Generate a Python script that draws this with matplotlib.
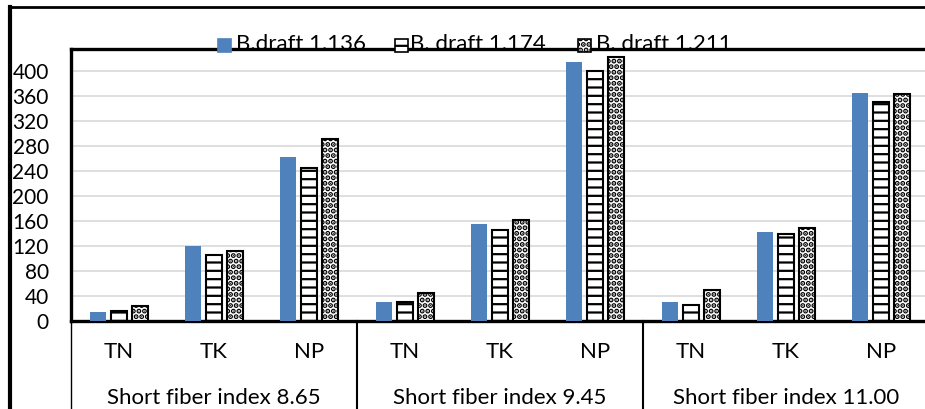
import matplotlib
matplotlib.use("Agg")
import matplotlib.pyplot as plt
from matplotlib.patches import Rectangle
from matplotlib.lines import Line2D
import numpy as np

# =====================================================
# DATA
# =====================================================

groups = ["Short fiber index 8.65", "Short fiber index 9.45", "Short fiber index 11.00"]
params = ["TN", "TK", "NP"]
series_names = ["B.draft 1.136", "B. draft 1.174", "B. draft 1.211"]

draft_1136 = [15, 120, 262, 31, 155, 414, 30, 143, 365]
draft_1174 = [16, 105, 245, 30, 146, 400, 26, 139, 350]
draft_1211 = [24, 112, 290, 45, 161, 422, 50, 148, 362]

yticks = [0, 40, 80, 120, 160, 200, 240, 280, 320, 360, 400]

# =====================================================
# STYLE
# =====================================================

plt.rcParams['font.family'] = ['Lato', 'DejaVu Sans']
plt.rcParams['hatch.linewidth'] = 1.6
FS = 16
BLUE = "#4F81BD"
DOT_HATCH = "..."
DOT_LW = 2.6

W, H = 925, 409
fig = plt.figure(figsize=(W / 100, H / 100), dpi=100)
ax = fig.add_axes([71 / W, 88 / H, 858 / W, 272 / H])

x = np.arange(len(draft_1136))
bw = 0.17
off = 0.22

ax.bar(x - off, draft_1136, bw, color=BLUE, zorder=3)
ax.bar(x, draft_1174, bw, color="white", edgecolor="black", hatch="--",
       linewidth=1.5, zorder=3)
with plt.rc_context({'hatch.linewidth': DOT_LW}):
    ax.bar(x + off, draft_1211, bw, color="white", edgecolor="black", hatch=DOT_HATCH,
           linewidth=1.5, zorder=3)

ax.set_xlim(-0.5, len(x) - 0.5)
ax.set_ylim(0, 434.6)
ax.set_yticks(yticks)
ax.set_yticklabels([str(v) for v in yticks], fontsize=15)
ax.tick_params(axis='y', length=0, pad=16)
ax.set_xticks([])
ax.yaxis.grid(True, color="#D9D9D9", linewidth=1.2, zorder=0)
ax.set_axisbelow(True)

for s in ["top", "left", "bottom"]:
    ax.spines[s].set_linewidth(2.4)
    ax.spines[s].set_color("black")
ax.spines["right"].set_visible(False)

# =====================================================
# CATEGORY AXIS (two rows)
# =====================================================

bottom_ax = -88 / 272  # figure bottom in axes fraction
for i, p in enumerate(params * len(groups)):
    ax.text(i, -31 / 272, p, transform=ax.get_xaxis_transform(),
            ha="center", va="center", fontsize=FS, clip_on=False)
for g, name in enumerate(groups):
    ax.text(g * 3 + 1, -77 / 272, name, transform=ax.get_xaxis_transform(),
            ha="center", va="center", fontsize=FS, clip_on=False)

for bx, lw in [(-0.5, 1.0), (2.5, 1.5), (5.5, 1.5)]:
    ax.add_line(Line2D([bx, bx], [0, bottom_ax], transform=ax.get_xaxis_transform(),
                       color="black", linewidth=lw, clip_on=False))

# =====================================================
# LEGEND (drawn on the top border)
# =====================================================

leg_boxes = [218, 395, 578]
leg_text = [236, 410, 596]
styles = [dict(facecolor=BLUE, edgecolor=BLUE, hatch=None),
          dict(facecolor="white", edgecolor="black", hatch="--"),
          dict(facecolor="white", edgecolor="black", hatch=DOT_HATCH)]
for bx, tx, name, st in zip(leg_boxes, leg_text, series_names, styles):
    with plt.rc_context({'hatch.linewidth': DOT_LW if st['hatch'] == DOT_HATCH else 1.6}):
        fig.add_artist(Rectangle((bx / W, (H - 52) / H), 13 / W, 13 / H,
                                 transform=fig.transFigure, linewidth=1.2,
                                 zorder=5, **st))
    fig.text(tx / W, (H - 50) / H, name, fontsize=FS, va="baseline",
             ha="left", zorder=6)

# =====================================================
# OUTER FRAME
# =====================================================

fig.add_artist(Line2D([10 / W, 1], [(H - 7) / H, (H - 7) / H],
                      transform=fig.transFigure, color="black", linewidth=2))
fig.add_artist(Line2D([10 / W, 10 / W], [0, (H - 7) / H],
                      transform=fig.transFigure, color="black", linewidth=3))

fig.savefig("out.png", dpi=100)
